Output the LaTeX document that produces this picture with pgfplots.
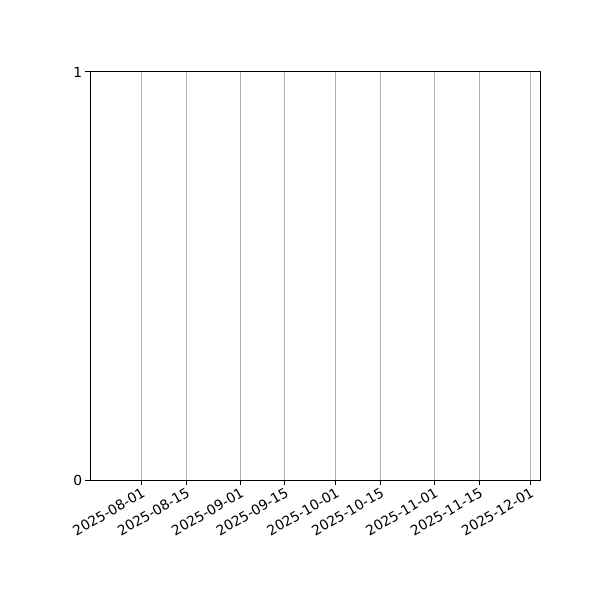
\documentclass[border=0pt]{standalone}
\usepackage{pgfplots}
\pgfplotsset{compat=1.18}
\usepackage{fontspec}
\setmainfont{DejaVu Sans}
\definecolor{gridgray}{RGB}{176,176,176}

\begin{document}
\begin{tikzpicture}[x=1in,y=1in]
    % page of 6in x 6in (600 px at 100 dpi)
    \path[use as bounding box] (-0.9,-1.2) rectangle (5.1,4.8);
    \begin{axis}
        [
        at={(0,0)}, anchor=south west,
        scale only axis,
        width=4.5in, height=4.08in,
        xmin=-16.2, xmax=125.1,
        ymin=0, ymax=1,
        xtick={0,14,31,45,61,75,92,106,122},
        xticklabels={2025-08-01,2025-08-15,2025-09-01,2025-09-15,2025-10-01,2025-10-15,2025-11-01,2025-11-15,2025-12-01},
        ytick={0,1},
        xtick pos=bottom, ytick pos=left,
        tick align=outside,
        major tick length=3.5pt,
        tick style={black, line width=0.72pt},
        axis line style={line width=0.72pt},
        xmajorgrids,
        grid style={gridgray, line width=0.72pt},
        /pgf/number format/assume math mode=true,
        ticklabel style={font=\fontsize{10}{12}\selectfont},
        xticklabel style={rotate=30, anchor=north east, inner sep=1pt},
        yticklabel style={inner sep=2pt},
        ]
    \end{axis}
\end{tikzpicture}
\end{document}
